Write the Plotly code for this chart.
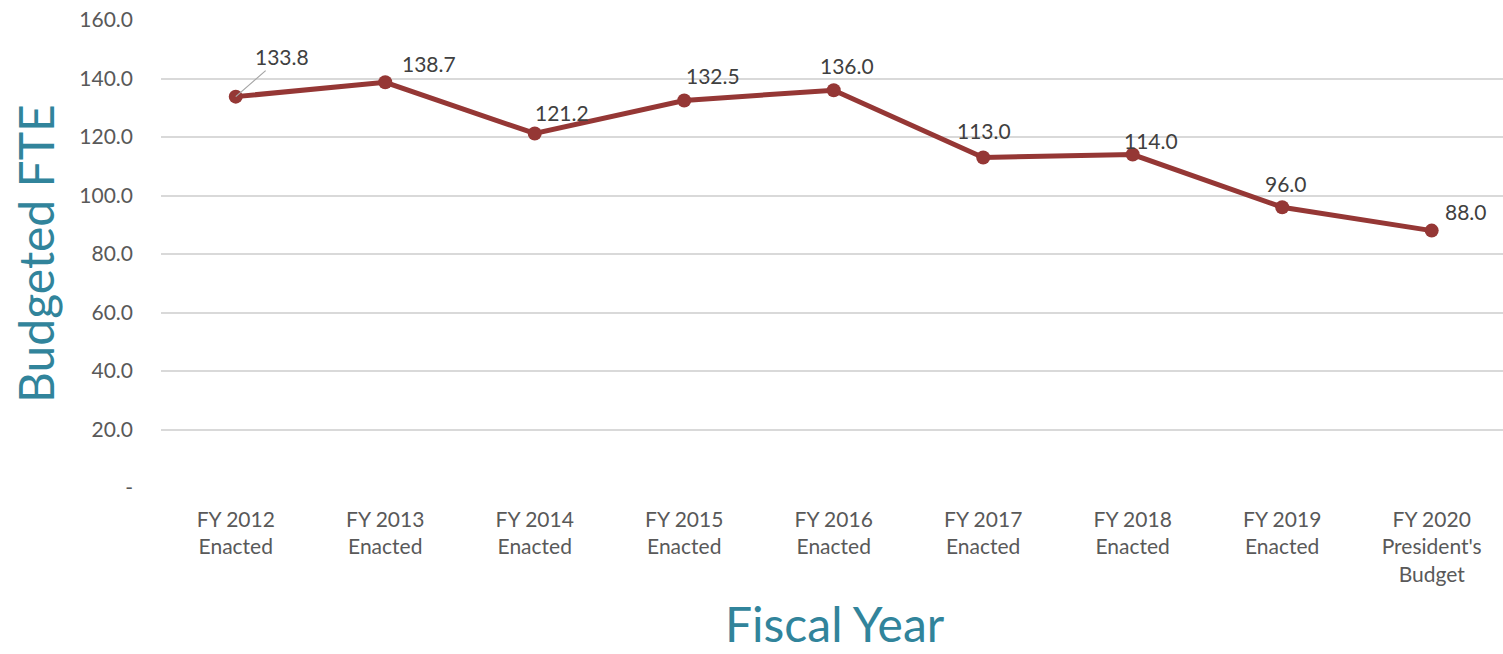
import plotly.graph_objects as go

categories = ["FY 2012<br>Enacted", "FY 2013<br>Enacted", "FY 2014<br>Enacted", "FY 2015<br>Enacted",
              "FY 2016<br>Enacted", "FY 2017<br>Enacted", "FY 2018<br>Enacted", "FY 2019<br>Enacted",
              "FY 2020<br>President's<br>Budget"]
values = [133.8, 138.7, 121.2, 132.5, 136.0, 113.0, 114.0, 96.0, 88.0]
y_tickvals = [0, 20, 40, 60, 80, 100, 120, 140, 160]
y_ticktext = ["-", "20.0", "40.0", "60.0", "80.0", "100.0", "120.0", "140.0", "160.0"]

# label offsets (pixels) for data labels
label_dx = [0, 44, 27, 29, 13, 1, 18, 4, 34]
label_dy = [0, 19, 21, 25, 25, 27, 14, 24, 19]

FONT = "Lato"
LINE = "#953735"
TEAL = "#31849B"
GREY = "#595959"

fig = go.Figure()
fig.add_trace(go.Scatter(
    x=categories, y=values, mode="lines+markers",
    line=dict(color=LINE, width=5),
    marker=dict(color=LINE, size=14),
    hoverinfo="x+y", showlegend=False,
))

annotations = []
for i, (c, v) in enumerate(zip(categories, values)):
    if i == 0:
        annotations.append(dict(
            x=c, y=v, xref="x", yref="y", text=f"{v:.1f}",
            showarrow=True, arrowhead=0, arrowwidth=1.2, arrowcolor="#A6A6A6",
            ax=46, ay=-40, standoff=0,
            font=dict(family=FONT, size=21, color="#404040"),
        ))
    else:
        annotations.append(dict(
            x=c, y=v, xref="x", yref="y", text=f"{v:.1f}",
            showarrow=False, xshift=label_dx[i], yshift=label_dy[i],
            font=dict(family=FONT, size=21, color="#404040"),
        ))

# axis titles
annotations.append(dict(
    x=0, y=0.5, xref="paper", yref="paper", text="Budgeted FTE", textangle=-90,
    showarrow=False, xanchor="center", yanchor="middle", xshift=-126,
    font=dict(family=FONT, size=48, color=TEAL),
))
annotations.append(dict(
    x=0.5, y=0, xref="paper", yref="paper", text="Fiscal Year",
    showarrow=False, xanchor="center", yanchor="bottom", yshift=-166, xshift=3,
    font=dict(family=FONT, size=48, color=TEAL),
))

fig.update_layout(
    width=1503, height=654,
    margin=dict(l=161, r=0, t=20, b=166),
    paper_bgcolor="white", plot_bgcolor="white",
    font=dict(family=FONT, color=GREY, size=18),
    annotations=annotations,
    xaxis=dict(
        showgrid=False, showline=False, zeroline=False, automargin=False,
        tickfont=dict(family=FONT, size=21, color=GREY),
        ticks="", ticklabelstandoff=17,
        range=[-0.5, 8.477],
    ),
    yaxis=dict(
        range=[0, 160], tickvals=y_tickvals, ticktext=y_ticktext, automargin=False,
        showgrid=True, gridcolor="#D9D9D9", gridwidth=2,
        zeroline=False, showline=False, ticks="",
        tickfont=dict(family=FONT, size=21, color=GREY),
        ticklabelstandoff=27,
    ),
)

fig.write_html(
    "out.html",
    config={"displayModeBar": False},
    post_script="document.body.style.margin='0';document.body.style.overflow='hidden';",
)
